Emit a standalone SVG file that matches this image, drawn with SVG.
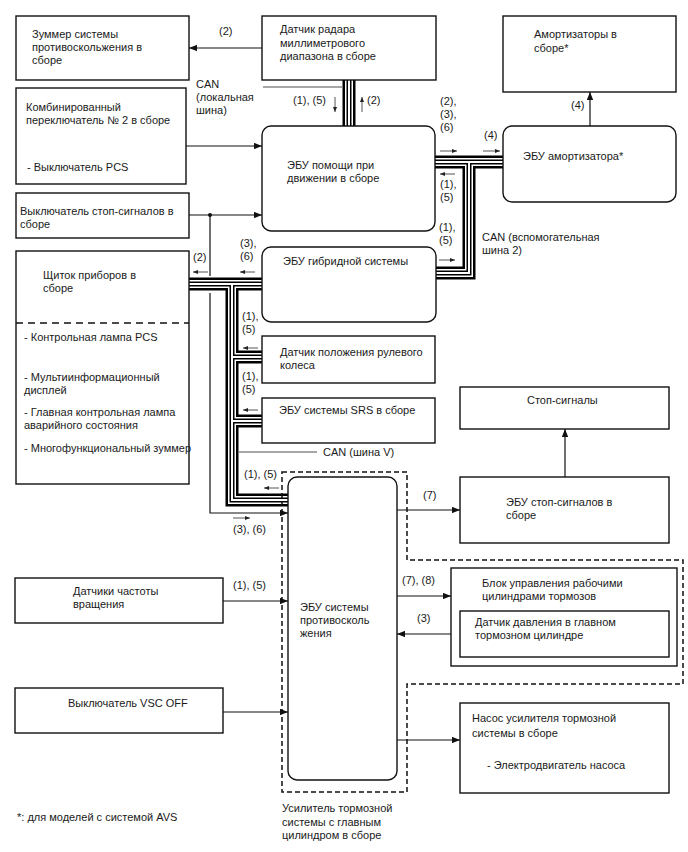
<svg xmlns="http://www.w3.org/2000/svg" width="688" height="852" viewBox="0 0 688 852">
<style>
text{font-family:"Liberation Sans",Arial,sans-serif;font-size:11px;fill:#1a1a1a}
.box{fill:#fff;stroke:#111;stroke-width:1.4}
.ln{fill:none;stroke:#111;stroke-width:1.2}
.sa{fill:none;stroke:#555;stroke-width:1}
.can{fill:none;stroke:#888;stroke-width:1.5}
.b1{fill:none;stroke:#000;stroke-width:13}
.b2{fill:none;stroke:#fff;stroke-width:8}
.b3{fill:none;stroke:#000;stroke-width:5}
.b4{fill:none;stroke:#fff;stroke-width:2}
.dash{fill:none;stroke:#111;stroke-width:1.5;stroke-dasharray:5 3}
</style>
<defs>
<marker id="ah" viewBox="0 0 10 8" refX="10" refY="4" markerWidth="8" markerHeight="6.4" markerUnits="userSpaceOnUse" orient="auto"><path d="M0,0L10,4L0,8Z" fill="#111"/></marker>
<marker id="sah" viewBox="0 0 10 8" refX="10" refY="4" markerWidth="5" markerHeight="4" markerUnits="userSpaceOnUse" orient="auto"><path d="M0,0L10,4L0,8Z" fill="#222"/></marker>
<path id="bus" d="M189,284H262 M232,284V500H288 M232,357H262 M232,421H262 M349,80V126 M435,162H503 M469,162V273H435"/>
</defs>

<g id="connectors">
<use href="#bus" class="b1"/>
<use href="#bus" class="b2"/>
<use href="#bus" class="b3"/>
<use href="#bus" class="b4"/>
<path class="can" d="M263,87H342"/>
<path class="can" d="M239,452H317"/>
<path class="ln" d="M262,48H189" marker-end="url(#ah)"/>
<path class="ln" d="M186,146H262" marker-end="url(#ah)"/>
<path class="ln" d="M189,215H262" marker-end="url(#ah)"/>
<circle cx="210" cy="215" r="2" fill="#111"/>
<path class="ln" d="M210,215V276"/>
<path class="ln" d="M210,293V513H288" marker-end="url(#ah)"/>
<path class="ln" d="M590,126V92" marker-end="url(#ah)"/>
<path class="ln" d="M565,477V429" marker-end="url(#ah)"/>
<path class="ln" d="M397,510H460" marker-end="url(#ah)"/>
<path class="ln" d="M397,596H451" marker-end="url(#ah)"/>
<path class="ln" d="M460,634H397" marker-end="url(#ah)"/>
<path class="ln" d="M397,740H460" marker-end="url(#ah)"/>
<path class="ln" d="M223,601H288" marker-end="url(#ah)"/>
<path class="ln" d="M223,712H288" marker-end="url(#ah)"/>
<path class="sa" d="M335,97V112" marker-end="url(#sah)"/>
<path class="sa" d="M362,112V97" marker-end="url(#sah)"/>
<path class="sa" d="M440,151H457" marker-end="url(#sah)"/>
<path class="sa" d="M483,151H500" marker-end="url(#sah)"/>
<path class="sa" d="M455,174H440" marker-end="url(#sah)"/>
<path class="sa" d="M439,260H455" marker-end="url(#sah)"/>
<path class="sa" d="M208,272H193" marker-end="url(#sah)"/>
<path class="sa" d="M255,272H240" marker-end="url(#sah)"/>
<path class="sa" d="M258,348H243" marker-end="url(#sah)"/>
<path class="sa" d="M258,410H243" marker-end="url(#sah)"/>
<path class="sa" d="M279,488H264" marker-end="url(#sah)"/>
<path class="sa" d="M233,518H250" marker-end="url(#sah)"/>
</g>

<g id="labels">
<text x="219" y="35">(2)</text>
<text x="196" y="88">CAN</text>
<text x="196" y="101">(локальная</text>
<text x="196" y="114">шина)</text>
<text x="293" y="104">(1), (5)</text>
<text x="367" y="104">(2)</text>
<text x="440" y="105">(2),</text>
<text x="440" y="118">(3),</text>
<text x="440" y="131">(6)</text>
<text x="484" y="139">(4)</text>
<text x="571" y="109">(4)</text>
<text x="440" y="188">(1),</text>
<text x="440" y="201">(5)</text>
<text x="439" y="231">(1),</text>
<text x="439" y="244">(5)</text>
<text x="482" y="241">CAN (вспомогательная</text>
<text x="482" y="254">шина 2)</text>
<text x="193" y="261">(2)</text>
<text x="240" y="247">(3),</text>
<text x="240" y="260">(6)</text>
<text x="242" y="320">(1),</text>
<text x="242" y="333">(5)</text>
<text x="242" y="380">(1),</text>
<text x="242" y="393">(5)</text>
<text x="323" y="456">CAN (шина V)</text>
<text x="244" y="478">(1), (5)</text>
<text x="233" y="533">(3), (6)</text>
<text x="423" y="499">(7)</text>
<text x="402" y="584">(7), (8)</text>
<text x="417" y="622">(3)</text>
<text x="233" y="589">(1), (5)</text>
<text x="17" y="821">*: для моделей с системой AVS</text>
</g>

<g id="n_buzzer"><rect class="box" x="16" y="16" width="173" height="64"/>
<text x="32" y="38">Зуммер системы</text><text x="32" y="51">противоскольжения в</text><text x="32" y="64">сборе</text></g>

<g id="n_combo"><rect class="box" x="16" y="88" width="170" height="96"/>
<text x="26" y="111">Комбинированный</text><text x="26" y="124">переключатель № 2 в сборе</text><text x="27" y="171">- Выключатель PCS</text></g>

<g id="n_radar"><rect class="box" x="262" y="16" width="174" height="64"/>
<text x="280" y="33">Датчик радара</text><text x="280" y="47">миллиметрового</text><text x="280" y="60">диапазона в сборе</text></g>

<g id="n_assist"><rect class="box" x="262" y="126" width="173" height="105" rx="9"/>
<text x="287" y="169">ЭБУ помощи при</text><text x="287" y="182">движении в сборе</text></g>

<g id="n_shock"><rect class="box" x="503" y="16" width="173" height="76"/>
<text x="534" y="38">Амортизаторы в</text><text x="534" y="52">сборе*</text></g>

<g id="n_shock_ecu"><rect class="box" x="503" y="126" width="173" height="76" rx="9"/>
<text x="523" y="160">ЭБУ амортизатора*</text></g>

<g id="n_stopsw"><rect class="box" x="16" y="193" width="173" height="45"/>
<text x="20" y="215">Выключатель стоп-сигналов в</text><text x="20" y="228">сборе</text></g>

<g id="n_cluster"><rect class="box" x="16" y="251" width="173" height="233"/>
<text x="43" y="279">Щиток приборов в</text><text x="43" y="292">сборе</text>
<path d="M16,323H189" fill="none" stroke="#111" stroke-width="1.4" stroke-dasharray="7 5"/>
<text x="24" y="341">- Контрольная лампа PCS</text>
<text x="24" y="381">- Мультиинформационный</text><text x="24" y="394">дисплей</text>
<text x="24" y="416">- Главная контрольная лампа</text><text x="24" y="429">аварийного состояния</text>
<text x="24" y="452">- Многофункциональный зуммер</text></g>

<g id="n_hybrid"><rect class="box" x="262" y="247" width="174" height="75" rx="9"/>
<text x="283" y="265">ЭБУ гибридной системы</text></g>

<g id="n_steer"><rect class="box" x="262" y="336" width="173" height="47"/>
<text x="280" y="356">Датчик положения рулевого</text><text x="280" y="369">колеса</text></g>

<g id="n_srs"><rect class="box" x="262" y="398" width="173" height="45"/>
<text x="279" y="414">ЭБУ системы SRS в сборе</text></g>

<g id="n_skid"><rect class="box" x="288" y="477" width="109" height="303" rx="9"/>
<text x="300" y="611">ЭБУ системы</text><text x="300" y="624">противосколь</text><text x="300" y="637">жения</text></g>

<g id="n_booster"><path class="dash" d="M282,472H407V560H683V684H407V792H282Z"/>
<text x="282" y="812">Усилитель тормозной</text><text x="282" y="826">системы с главным</text><text x="282" y="839">цилиндром в сборе</text></g>

<g id="n_stoplights"><rect class="box" x="460" y="387" width="209" height="42"/>
<text x="527" y="404">Стоп-сигналы</text></g>

<g id="n_stopecu"><rect class="box" x="460" y="477" width="209" height="66"/>
<text x="506" y="506">ЭБУ стоп-сигналов в</text><text x="506" y="519">сборе</text></g>

<g id="n_block"><rect class="box" x="451" y="568" width="226" height="98"/>
<text x="482" y="587">Блок управления рабочими</text><text x="482" y="600">цилиндрами тормозов</text></g>

<g id="n_pressure"><rect class="box" x="460" y="611" width="209" height="46"/>
<text x="475" y="626">Датчик давления в главном</text><text x="475" y="639">тормозном цилиндре</text></g>

<g id="n_pump"><rect class="box" x="460" y="703" width="209" height="90"/>
<text x="472" y="722">Насос усилителя тормозной</text><text x="472" y="737">системы в сборе</text><text x="487" y="769">- Электродвигатель насоса</text></g>

<g id="n_speed"><rect class="box" x="15" y="578" width="208" height="45"/>
<text x="73" y="595">Датчики частоты</text><text x="73" y="608">вращения</text></g>

<g id="n_vsc"><rect class="box" x="15" y="688" width="208" height="45"/>
<text x="68" y="707">Выключатель VSC OFF</text></g>
</svg>
